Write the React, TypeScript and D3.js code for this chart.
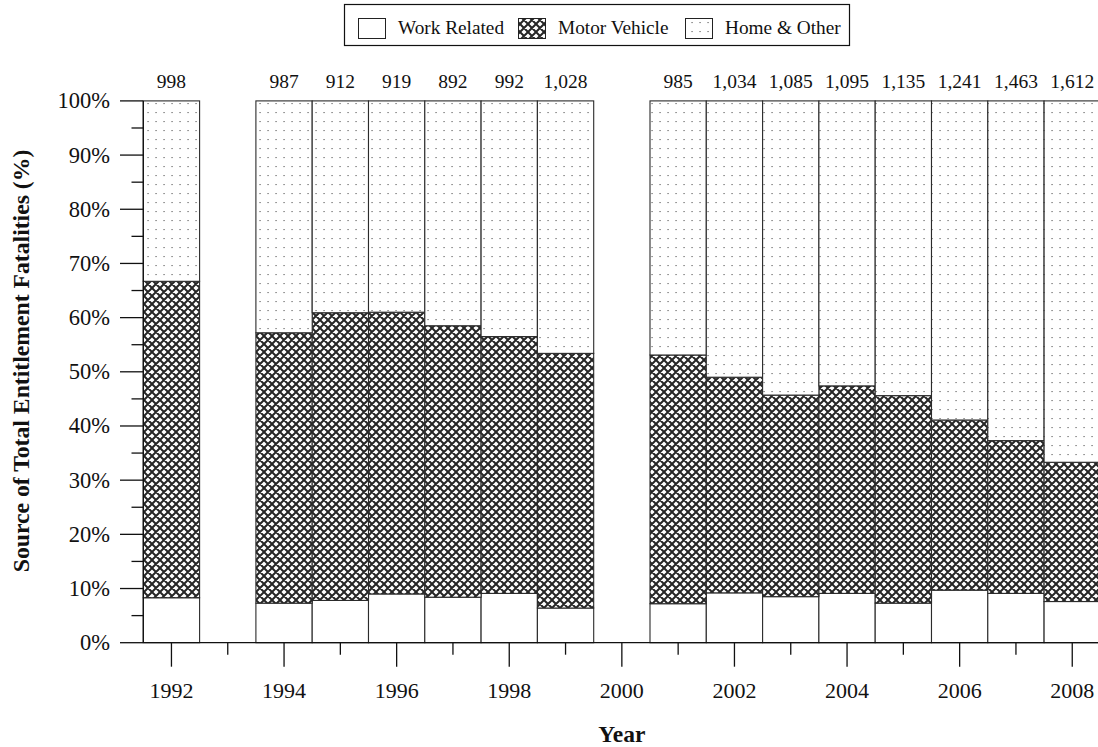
import React from "react";
import * as d3 from "d3";

// Years on the category axis (1993 and 2000 carry no bar)
const years = [
  "1992", "1993", "1994", "1995", "1996", "1997", "1998", "1999", "2000",
  "2001", "2002", "2003", "2004", "2005", "2006", "2007", "2008",
];

// Share of fatalities by source (%); null = no data that year
const workRelated = [8.3, null, 7.3, 7.8, 9.0, 8.4, 9.1, 6.4, null, 7.2, 9.2, 8.5, 9.1, 7.3, 9.7, 9.1, 7.6];
const motorVehicle = [58.4, null, 49.9, 53.1, 52.0, 50.1, 47.4, 47.0, null, 45.9, 39.8, 37.2, 38.3, 38.3, 31.4, 28.2, 25.7];
const homeOther = [33.3, null, 42.8, 39.1, 39.0, 41.5, 43.5, 46.6, null, 46.9, 51.0, 54.3, 52.6, 54.4, 58.9, 62.7, 66.7];

// Total fatalities shown above each bar
const totals = ["998", "", "987", "912", "919", "892", "992", "1,028", "", "985", "1,034", "1,085", "1,095", "1,135", "1,241", "1,463", "1,612"];

const yTicks = [0, 10, 20, 30, 40, 50, 60, 70, 80, 90, 100];
const yMinorTicks = [5, 15, 25, 35, 45, 55, 65, 75, 85, 95];

const seriesNames = ["Work Related", "Motor Vehicle", "Home & Other"];
const seriesFills = ["#ffffff", "url(#crosshatch)", "url(#dots)"];

const W = 1098;
const H = 747;
const FONT = '"Liberation Serif", "Times New Roman", serif';

export default function App() {
  const x = d3.scaleBand<string>().domain(years).range([143.3, 143.3 + 17 * 56.3]).padding(0);
  const y = d3.scaleLinear().domain([0, 100]).range([642.7, 100.9]);

  const rows = years
    .map((yr, i) => ({ year: yr, work: workRelated[i], motor: motorVehicle[i], home: homeOther[i], total: totals[i] }))
    .filter((d) => d.work !== null);

  const stack = d3
    .stack<any>()
    .keys(["work", "motor", "home"])(rows as any);

  const axisColor = "#111";

  return (
    <svg width={W} height={H} style={{ position: "absolute", left: 0, top: 0, background: "#fff" }}>
      <defs>
        <pattern id="crosshatch" width={8} height={8} patternUnits="userSpaceOnUse">
          <rect width={8} height={8} fill="#fff" />
          <path d="M-2,-2 L10,10 M10,-2 L-2,10 M-2,6 L2,10 M6,-2 L10,2 M6,10 L10,6 M-2,2 L2,-2" stroke="#262626" strokeWidth={2} />
        </pattern>
        <pattern id="dots" width={8} height={9} patternUnits="userSpaceOnUse">
          <rect width={8} height={9} fill="#fff" />
          <rect x={3.5} y={4} width={1.1} height={1.1} fill="#555" />
        </pattern>
      </defs>

      {/* Legend */}
      <g fontFamily={FONT} fontSize={19.3}>
        <rect x={344.5} y={4.5} width={505} height={41} fill="#fff" stroke={axisColor} strokeWidth={1.2} />
        {seriesNames.map((name, i) => {
          const offsets = [358, 518, 685];
          const x0 = offsets[i];
          return (
            <g key={name}>
              <rect x={x0 + 0.5} y={18.5} width={27} height={20} fill={seriesFills[i]} stroke="#222" strokeWidth={1} />
              <text x={x0 + 40} y={34} fill="#111">{name}</text>
            </g>
          );
        })}
      </g>

      {/* Stacked bars */}
      {stack.map((layer, li) => (
        <g key={li}>
          {layer.map((seg: any) => (
            <rect
              key={seg.data.year}
              x={x(seg.data.year)!}
              y={y(seg[1])}
              width={x.bandwidth()}
              height={y(seg[0]) - y(seg[1])}
              fill={seriesFills[li]}
              stroke="#2b2b2b"
              strokeWidth={1.1}
            />
          ))}
        </g>
      ))}

      {/* Totals above bars */}
      <g fontFamily={FONT} fontSize={19.5} textAnchor="middle" fill="#111">
        {rows.map((d) => (
          <text key={d.year} x={x(d.year)! + x.bandwidth() / 2} y={88}>
            {d.total}
          </text>
        ))}
      </g>

      {/* Y axis */}
      <g stroke={axisColor} strokeWidth={1.3}>
        <line x1={x.range()[0]} x2={x.range()[0]} y1={y(0)} y2={y(100)} />
        {yTicks.map((t) => (
          <line key={t} x1={120} x2={x.range()[0]} y1={y(t)} y2={y(t)} />
        ))}
        {yMinorTicks.map((t) => (
          <line key={t} x1={131.5} x2={x.range()[0]} y1={y(t)} y2={y(t)} />
        ))}
      </g>
      <g fontFamily={FONT} fontSize={22.5} textAnchor="end" fill="#111">
        {yTicks.map((t) => (
          <text key={t} x={110} y={y(t) + 7.5}>
            {t}%
          </text>
        ))}
      </g>

      {/* X axis */}
      <g stroke={axisColor} strokeWidth={1.3}>
        <line x1={x.range()[0]} x2={W} y1={y(0)} y2={y(0)} />
        {years.map((yr) => {
          const cx = x(yr)! + x.bandwidth() / 2;
          const major = +yr % 2 === 0;
          return <line key={yr} x1={cx} x2={cx} y1={y(0)} y2={y(0) + (major ? 24 : 12)} />;
        })}
      </g>
      <g fontFamily={FONT} fontSize={22} textAnchor="middle" fill="#111">
        {years
          .filter((yr) => +yr % 2 === 0)
          .map((yr) => (
            <text key={yr} x={x(yr)! + x.bandwidth() / 2} y={697.5}>
              {yr}
            </text>
          ))}
      </g>

      {/* Axis titles */}
      <text
        x={(x.range()[0] + x.range()[1]) / 2}
        y={742}
        textAnchor="middle"
        fontFamily={FONT}
        fontSize={23.5}
        fontWeight="bold"
        fill="#111"
      >
        Year
      </text>
      <text
        transform={`translate(28.5, 361) rotate(-90)`}
        textAnchor="middle"
        fontFamily={FONT}
        fontSize={23.7}
        fontWeight="bold"
        fill="#111"
      >
        Source of Total Entitlement Fatalities (%)
      </text>
    </svg>
  );
}
